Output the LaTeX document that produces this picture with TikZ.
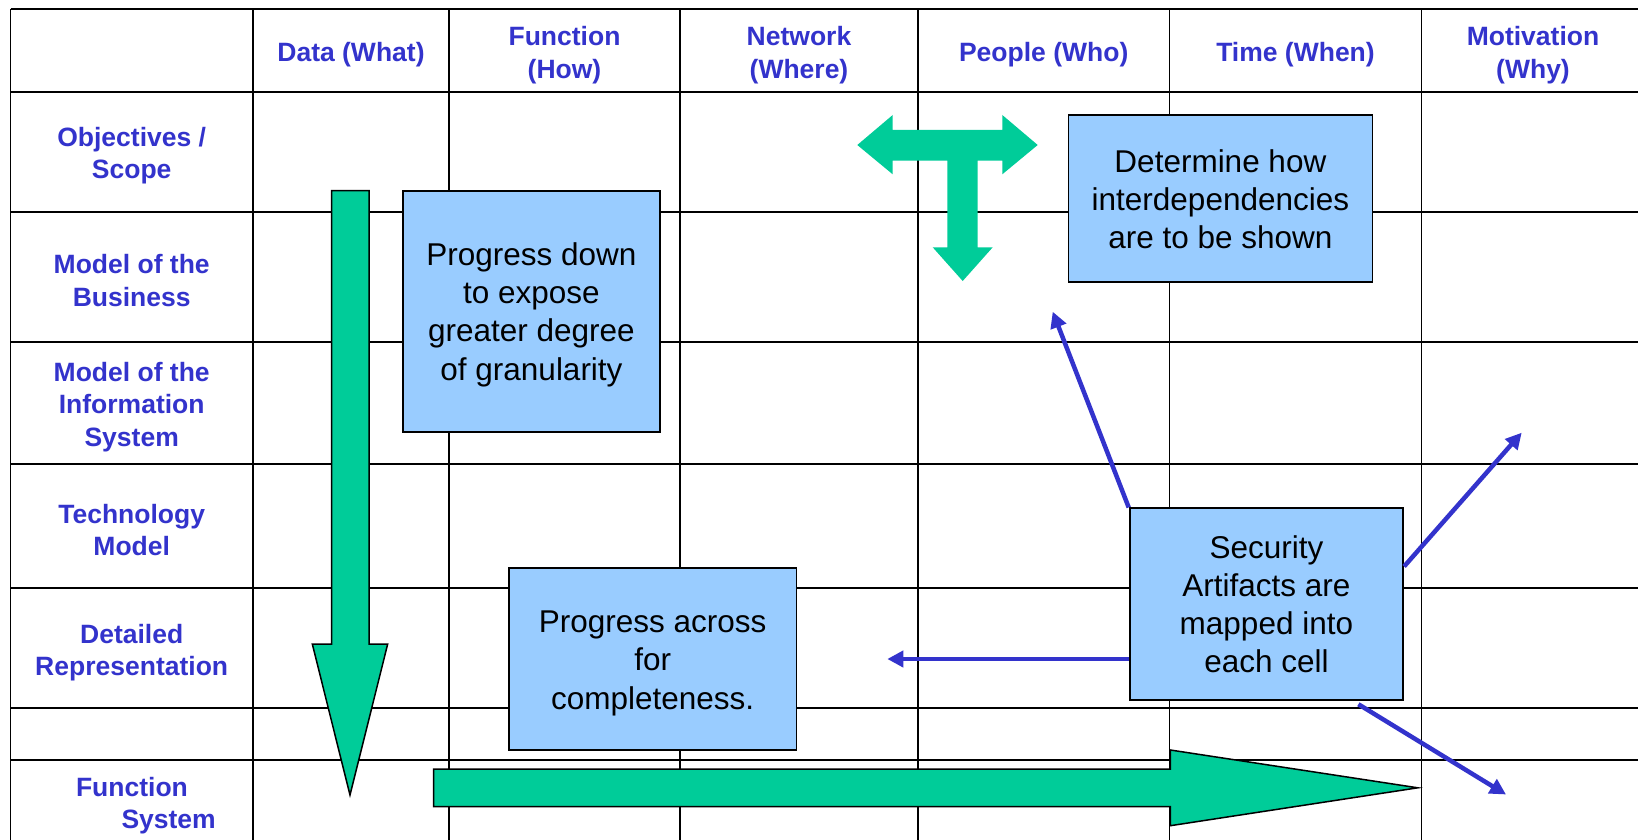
\documentclass[tikz,border=0pt]{standalone}
\usepackage{fontspec}
\setmainfont{Liberation Sans}
\usetikzlibrary{arrows.meta,calc}
\definecolor{hdrblue}{HTML}{3333CC}
\definecolor{boxblue}{HTML}{99CCFF}
\definecolor{arrowgreen}{HTML}{00CC99}
\begin{document}
\begin{tikzpicture}[x=1pt,y=-1pt,
  gridline/.style={line width=1.7pt, black},
  hdr/.style={text=hdrblue, font=\fontsize{26.5}{32.3}\selectfont\bfseries, align=center, inner sep=0pt},
  notebox/.style={draw=black, line width=1.8pt, fill=boxblue, inner sep=0pt},
  notetext/.style={inner sep=0pt, align=center, font=\fontsize{31.5}{38.3}\selectfont},
  bigarrow/.style={fill=arrowgreen, draw=black, line width=1.5pt, line join=miter},
  pointer/.style={draw=hdrblue, line width=4.5pt, -{Triangle[length=16pt,width=16pt]}}
]
\clip (0,0) rectangle (1638,840);
\fill[white] (0,0) rectangle (1638,840);

% table rules
\foreach \yy in {9,91.7,211.7,341.7,463.7,588.3,708.3,760}
  \draw[gridline] (10.5,\yy) -- (1660,\yy);
\foreach \xx in {10.5,253,449,680,918,1169.5,1421.5}
  \draw[gridline] (\xx,9) -- (\xx,860);

% column headings
\node[hdr] (hData) at (351,54.7) {Data (What)};
\node[hdr] (hFunc) at (564.5,55.2) {Function\\(How)};
\node[hdr] (hNet)  at (799,55.2) {Network\\(Where)};
\node[hdr] (hPeop) at (1043.7,54.7) {People (Who)};
\node[hdr] (hTime) at (1295.5,54.7) {Time (When)};
\node[hdr] (hMot)  at (1533,55.2) {Motivation\\(Why)};

% row headings
\node[hdr] (rObj)  at (131.7,155.5) {Objectives /\\Scope};
\node[hdr] (rBus)  at (131.7,280.5) {Model of the\\Business};
\node[hdr] (rInf)  at (131.7,407) {Model of the\\Information\\System};
\node[hdr] (rTech) at (131.7,530) {Technology\\Model};
\node[hdr] (rDet)  at (131.7,652.7) {Detailed\\Representation};
\node[hdr, align=left, anchor=west] (rFun) at (75.8,805.5) {Function\\\hspace*{45.5pt}System};

% downward progress arrow
\draw[bigarrow] (331.7,190.7) -- (369,190.7) -- (369,644) -- (387.7,644) -- (350,795)
  -- (312.3,644) -- (331.7,644) -- cycle;

% across progress arrow
\draw[bigarrow] (433.6,769) -- (1170.4,769) -- (1170.4,750) -- (1417.8,787.8)
  -- (1170.4,825.7) -- (1170.4,806.7) -- (433.6,806.7) -- cycle;

% interdependency T arrow
\fill[arrowgreen] (857.3,145) -- (892.7,115) -- (892.7,130) -- (1002.3,130) -- (1002.3,115)
  -- (1037.7,145) -- (1002.3,174.3) -- (1002.3,160.7) -- (977.7,160.7) -- (977.7,247.3)
  -- (992.7,247.3) -- (962.7,281) -- (932.7,247.3) -- (947.3,247.3) -- (947.3,160.7)
  -- (892.7,160.7) -- (892.7,174.3) -- cycle;

% note boxes and their texts
\node[notebox, minimum width=257pt, minimum height=241.6pt] (down) at (531.5,311.5) {};
\node[notetext] (downText) at ($(down.center)+(0,3)$)
  {Progress down\\to expose\\greater degree\\of granularity};
\node[notebox, minimum width=304pt, minimum height=166.7pt] (dep) at (1220.4,198.4) {};
\node[notetext] (depText) at ($(dep.center)+(0,1)$)
  {Determine how\\interdependencies\\are to be shown};
\node[notebox, minimum width=287.6pt, minimum height=181.7pt] (across) at (652.7,659.2) {};
\node[notetext] (acrossText) at ($(across.center)+(0,4)$)
  {Progress across\\for\\completeness.};
\node[notebox, minimum width=273.6pt, minimum height=191.7pt] (sec) at (1266.4,604.2) {};
\node[notetext] (secText) at (sec.center)
  {Security\\Artifacts are\\mapped into\\each cell};

% pointers from the security box
\coordinate (pUp)    at (1052.7,311.7);
\coordinate (pRight) at (1521.7,432.7);
\coordinate (pLeft)  at (887.3,659);
\coordinate (pDown)  at (1506,794.5);
\draw[pointer] (sec.north west) -- (pUp);
\draw[pointer] ($(sec.north east)!0.305!(sec.south east)$) -- (pRight);
\draw[pointer] (sec.west |- pLeft) -- (pLeft);
\draw[pointer] ($(sec.south west)!0.834!(sec.south east)+(0,3.3)$) -- (pDown);
\end{tikzpicture}
\end{document}
